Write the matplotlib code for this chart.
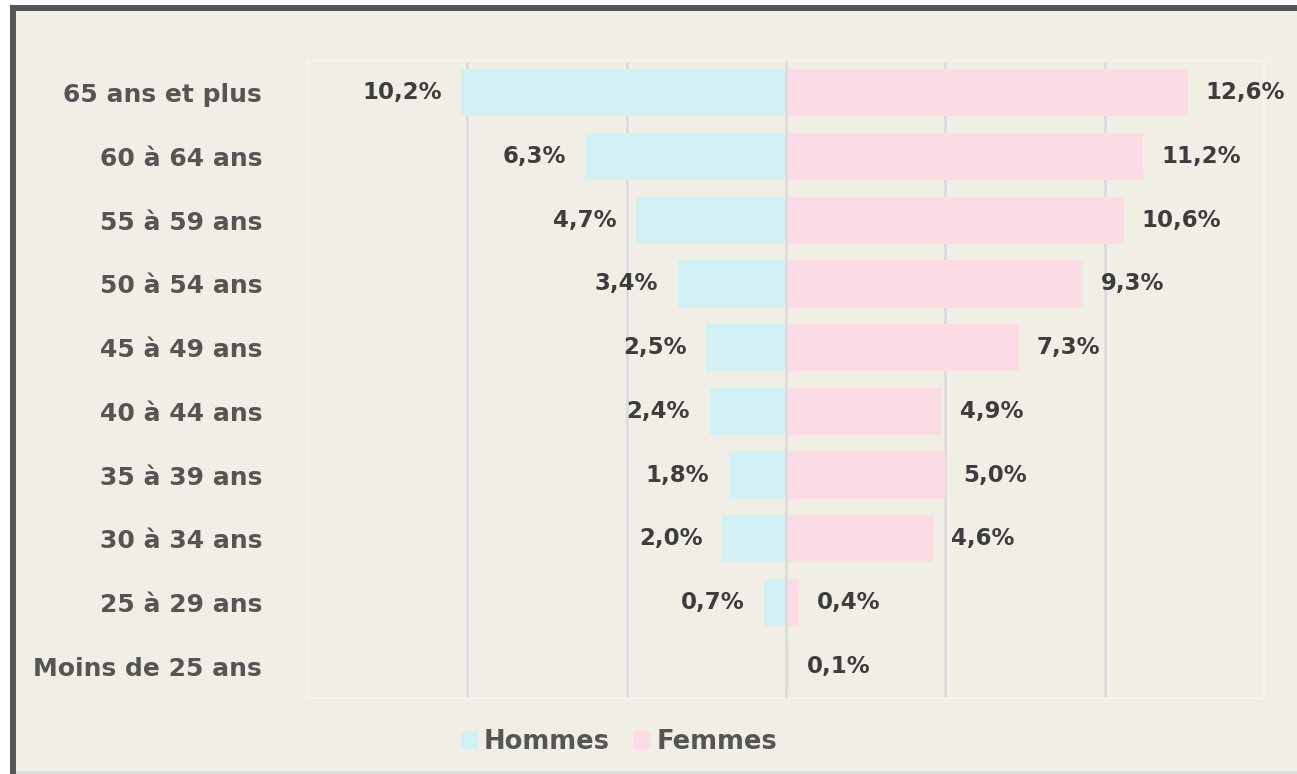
import matplotlib.pyplot as plt
from matplotlib.patches import Rectangle

categories = ["65 ans et plus", "60 à 64 ans", "55 à 59 ans", "50 à 54 ans", "45 à 49 ans",
              "40 à 44 ans", "35 à 39 ans", "30 à 34 ans", "25 à 29 ans", "Moins de 25 ans"]
hommes = [10.2, 6.3, 4.7, 3.4, 2.5, 2.4, 1.8, 2.0, 0.7, 0.0]
femmes = [12.6, 11.2, 10.6, 9.3, 7.3, 4.9, 5.0, 4.6, 0.4, 0.1]

BG = "#f1eee6"
C_H = "#d2f1f5"
C_F = "#fcdce4"
W, H = 1297, 774

plt.rcParams['font.family'] = ['DejaVu Sans']
fig = plt.figure(figsize=(W / 100, H / 100), dpi=100, facecolor="white")

# frame of the card
fig.patches.append(Rectangle((10 / W, 0), 1 - 10 / W, (H - 5) / H, transform=fig.transFigure,
                             facecolor=BG, edgecolor="none", zorder=-3))
fig.patches.append(Rectangle((10 / W, (H - 11) / H), 1, 6 / H, transform=fig.transFigure,
                             facecolor="#555555", edgecolor="none", zorder=-2))
fig.patches.append(Rectangle((10 / W, 0), 6 / W, (H - 5) / H, transform=fig.transFigure,
                             facecolor="#555555", edgecolor="none", zorder=-2))
fig.patches.append(Rectangle((16 / W, 0), 1, 3 / H, transform=fig.transFigure,
                             facecolor="#dcdcdc", edgecolor="none", zorder=-2))

ax = fig.add_axes([308 / W, (H - 698) / H, (1264 - 308) / W, (698 - 61) / H])
ax.set_facecolor(BG)
y = list(range(len(categories)))
ax.barh(y, [-v for v in hommes], height=0.74, color=C_H, label="Hommes", zorder=2)
ax.barh(y, femmes, height=0.74, color=C_F, label="Femmes", zorder=2)
ax.axvline(0, color="#dcdcdc", linewidth=2, zorder=3)

def fmt(v):
    return f"{v:.1f}".replace(".", ",") + "%"

for i, (h, f) in enumerate(zip(hommes, femmes)):
    if h > 0:
        ax.annotate(fmt(h), (-h, i), xytext=(-14, 0), textcoords="offset points",
                    ha="right", va="center", fontsize=16.5, fontweight="bold", color="#3d3d3d")
    if f > 0:
        ax.annotate(fmt(f), (f, i), xytext=(13, 0), textcoords="offset points",
                    ha="left", va="center", fontsize=16.5, fontweight="bold", color="#3d3d3d")

ax.set_xlim(-15, 15)
ax.set_ylim(len(categories) - 0.5, -0.5)
ax.set_xticks([-10, -5, 0, 5, 10])
ax.set_xticklabels([])
ax.set_yticks(y)
ax.set_yticklabels(categories, fontsize=18, fontweight="bold", color="#555555")
ax.tick_params(axis="both", length=0)
ax.tick_params(axis="y", pad=33)
ax.grid(axis="x", color="#dcdcdc", linewidth=2, zorder=1)
ax.set_axisbelow(True)
for s in ax.spines.values():
    s.set_color("#f5f3ee")
    s.set_linewidth(1.5)

fig.legend(loc="center", bbox_to_anchor=(619 / W, (H - 742) / H), ncol=2, frameon=False,
           handlelength=0.65, handleheight=0.65, handletextpad=0.25, columnspacing=0.9,
           prop={"size": 18.5, "weight": "bold"}, labelcolor="#555555")

fig.savefig("out.png", dpi=100, facecolor="white")
